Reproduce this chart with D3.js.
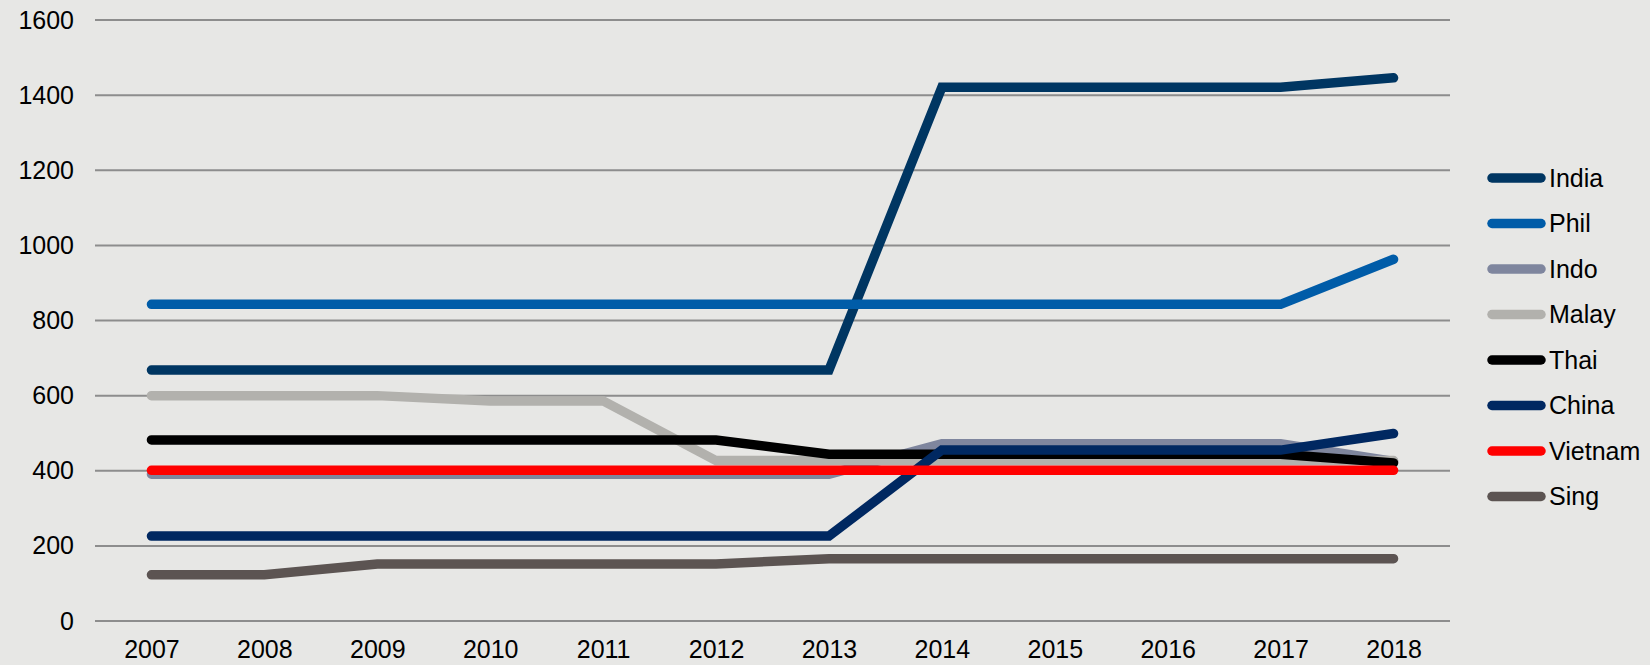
<!DOCTYPE html>
<html>
<head>
<meta charset="utf-8">
<script src="https://cdn.jsdelivr.net/npm/d3@7"></script>
<style>
  html, body { margin: 0; padding: 0; background: #e7e7e5; }
  svg { display: block; font-family: "Liberation Sans", Arial, sans-serif; }
</style>
</head>
<body>
<svg width="1650" height="665"></svg>
<script>
// Годы по оси X
const years = ["2007", "2008", "2009", "2010", "2011", "2012", "2013", "2014", "2015", "2016", "2017", "2018"];
// Метки оси Y
const yTicks = [0, 200, 400, 600, 800, 1000, 1200, 1400, 1600];

// Значения рядов
const india   = [668, 668, 668, 668, 668, 668, 668, 1421, 1421, 1421, 1421, 1446];
const phil    = [843, 843, 843, 843, 843, 843, 843, 843, 843, 843, 843, 963];
const indo    = [391, 391, 391, 391, 391, 391, 391, 472, 472, 472, 472, 425];
const malay   = [600, 600, 600, 586, 586, 427, 427, 427, 427, 427, 427, 427];
const thai    = [482, 482, 482, 482, 482, 482, 444, 444, 444, 444, 444, 421];
const china   = [226, 226, 226, 226, 226, 226, 226, 455, 455, 455, 455, 499];
const vietnam = [401, 401, 401, 401, 401, 401, 401, 401, 401, 401, 401, 401];
const sing    = [123, 123, 152, 152, 152, 152, 166, 166, 166, 166, 166, 166];

const seriesNames = ["India", "Phil", "Indo", "Malay", "Thai", "China", "Vietnam", "Sing"];
const seriesValues = [india, phil, indo, malay, thai, china, vietnam, sing];
const seriesColors = ["#003662", "#005CA8", "#7F869E", "#B2B1AD", "#000000", "#002861", "#FF0000", "#5C5452"];

const svg = d3.select("svg");

const attr_area = {
    left: 95,
    right: 1450,
    top: 20,
    bottom: 621
};

// Шкалы
const scaleX = d3.scalePoint()
    .domain(years)
    .range([attr_area.left, attr_area.right])
    .padding(0.5);

const scaleY = d3.scaleLinear()
    .domain([0, 1600])
    .range([attr_area.bottom, attr_area.top]);

// Сетка
svg.append("g")
    .selectAll("line")
    .data(yTicks)
    .enter()
    .append("line")
    .attr("x1", attr_area.left)
    .attr("x2", attr_area.right)
    .attr("y1", d => scaleY(d))
    .attr("y2", d => scaleY(d))
    .attr("stroke", "#8d8d8d")
    .attr("stroke-width", 2);

// Ось Y
const axisY = d3.axisLeft(scaleY).tickValues(yTicks).tickFormat(d3.format("d")).tickSize(0).tickPadding(0);
const gY = svg.append("g")
    .attr("transform", "translate(74,0)")
    .call(axisY);
gY.select(".domain").remove();
gY.selectAll("text")
    .attr("font-size", 25)
    .attr("fill", "#000")
    .attr("font-family", "Liberation Sans, Arial, sans-serif");

// Ось X
const axisX = d3.axisBottom(scaleX).tickSize(0).tickPadding(0);
const gX = svg.append("g")
    .attr("transform", "translate(0,640)")
    .call(axisX);
gX.select(".domain").remove();
gX.selectAll("text")
    .attr("font-size", 25)
    .attr("fill", "#000")
    .attr("dy", "0.71em")
    .attr("font-family", "Liberation Sans, Arial, sans-serif");

// Линии
const line = d3.line()
    .x((d, i) => scaleX(years[i]))
    .y(d => scaleY(d));

seriesValues.forEach((vals, k) => {
    svg.append("path")
        .datum(vals)
        .attr("fill", "none")
        .attr("stroke", seriesColors[k])
        .attr("stroke-width", 9.5)
        .attr("stroke-linecap", "round")
        .attr("stroke-linejoin", "miter")
        .attr("d", line);
});

// Легенда
const legend = svg.append("g");
seriesNames.forEach((name, k) => {
    const y = 178 + k * 45.5;
    legend.append("line")
        .attr("x1", 1492)
        .attr("x2", 1541)
        .attr("y1", y)
        .attr("y2", y)
        .attr("stroke", seriesColors[k])
        .attr("stroke-width", 9.5)
        .attr("stroke-linecap", "round");
    legend.append("text")
        .attr("x", 1549)
        .attr("y", y + 8.5)
        .attr("font-size", 25)
        .attr("fill", "#000")
        .text(name);
});
</script>
</body>
</html>
